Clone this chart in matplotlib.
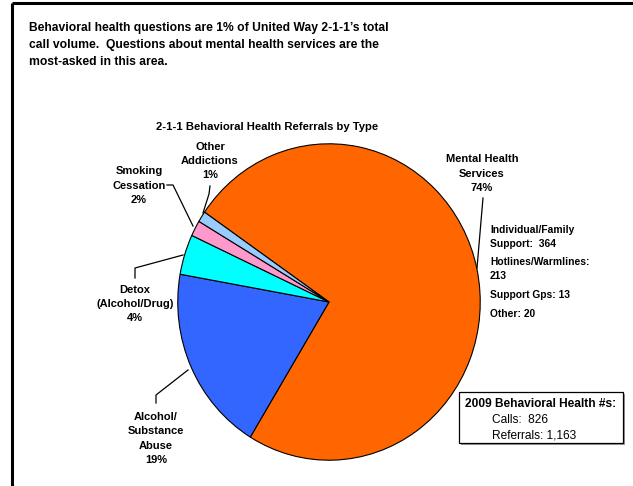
import matplotlib
matplotlib.use("Agg")
import matplotlib.pyplot as plt
from matplotlib.patches import Rectangle

plt.rcParams['font.family'] = ['Liberation Sans', 'DejaVu Sans']

# ---- data ----
categories = ["Mental Health\nServices", "Alcohol/\nSubstance\nAbuse", "Detox\n(Alcohol/Drug)",
              "Smoking\nCessation", "Other\nAddictions"]
shares = [74.1, 19.1, 4.1, 1.6, 1.1]
pct_labels = ["74%", "19%", "4%", "2%", "1%"]
colors = ["#FF6600", "#3366FF", "#00FFFF", "#FF99CC", "#99CCFF"]
mh_breakdown = ["Individual/Family\nSupport:  364", "Hotlines/Warmlines:\n213",
                "Support Gps: 13", "Other: 20"]
calls = 826
referrals = 1163

W, H = 633, 486
fig = plt.figure(figsize=(W / 100, H / 100), dpi=100)

# pie axes (slightly elliptical as in reference)
px0, px1, py0, py1 = 177, 481, 143, 461
axp = fig.add_axes([px0 / W, 1 - py1 / H, (px1 - px0) / W, (py1 - py0) / H])
axp.pie(shares, colors=colors, startangle=145.4, counterclock=False,
        wedgeprops=dict(edgecolor="black", linewidth=0.8))
axp.set_aspect('auto')
axp.set_xlim(-1.005, 1.005)
axp.set_ylim(-1.005, 1.005)
axp.axis('off')

# overlay axes in pixel coordinates
ax = fig.add_axes([0, 0, 1, 1])
ax.set_xlim(0, W)
ax.set_ylim(H, 0)
ax.axis('off')
ax.patch.set_alpha(0)

# frame
ax.plot([12, W], [3, 3], color="black", lw=2.2, solid_capstyle='butt')
ax.plot([12, 12], [3, H], color="black", lw=2.2, solid_capstyle='butt')

# headline
head_lines = ["Behavioral health questions are 1% of United Way 2-1-1\u2019s total",
              "call volume.  Questions about mental health services are the",
              "most-asked in this area."]
for i, t in enumerate(head_lines):
    ax.text(29, 28 + 17 * i, t, fontsize=8.75, fontweight='bold', va='center', ha='left')

ax.text(267, 127, "2-1-1 Behavioral Health Referrals by Type", fontsize=8.1,
        fontweight='bold', ha='center', va='center')

lab_fs = 8
ls = 1.55
# Mental Health
ax.text(482, 173.5, categories[0] + "\n" + pct_labels[0], fontsize=lab_fs, fontweight='bold',
        ha='center', va='center', linespacing=ls)
ax.plot([483, 477], [198, 268], color="black", lw=0.9)
# Alcohol
ax.text(156, 438.5, categories[1] + "\n" + pct_labels[1], fontsize=lab_fs, fontweight='bold',
        ha='center', va='center', linespacing=ls)
ax.plot([156, 156, 188], [403, 395, 370], color="black", lw=0.9)
# Detox
ax.text(135, 304, categories[2] + "\n" + pct_labels[2], fontsize=lab_fs, fontweight='bold',
        ha='center', va='center', linespacing=ls)
ax.plot([135, 135, 183], [278, 268, 255], color="black", lw=0.9)
# Smoking
ax.text(139, 185.5, categories[3] + "\n" + pct_labels[3], fontsize=lab_fs, fontweight='bold',
        ha='center', va='center', linespacing=ls)
ax.plot([167, 173, 193], [185, 185, 226], color="black", lw=0.9)
# Other addictions
ax.text(210, 161, categories[4] + "\n" + pct_labels[4], fontsize=lab_fs, fontweight='bold',
        ha='center', va='center', linespacing=ls)
ax.plot([210, 209, 203], [186, 194, 213], color="black", lw=0.9)

# breakdown
ys = [237, 269, 295, 314]
for y, t in zip(ys, mh_breakdown):
    ax.text(490, y, t, fontsize=7.4, fontweight='bold', ha='left', va='center',
            linespacing=1.5)

# stats box
ax.add_patch(Rectangle((461, 394), 164, 51, facecolor="#9a9a9a", edgecolor="none"))
ax.add_patch(Rectangle((459, 392), 164, 51, facecolor="white", edgecolor="black", lw=0.9))
ax.text(465, 404, "2009 Behavioral Health #s:", fontsize=8.6, fontweight='bold',
        ha='left', va='center')
ax.text(492, 420, f"Calls:  {calls}", fontsize=8.6, ha='left', va='center')
ax.text(492, 435, f"Referrals: {referrals:,}", fontsize=8.6, ha='left', va='center')

fig.savefig("out.png", dpi=100)
